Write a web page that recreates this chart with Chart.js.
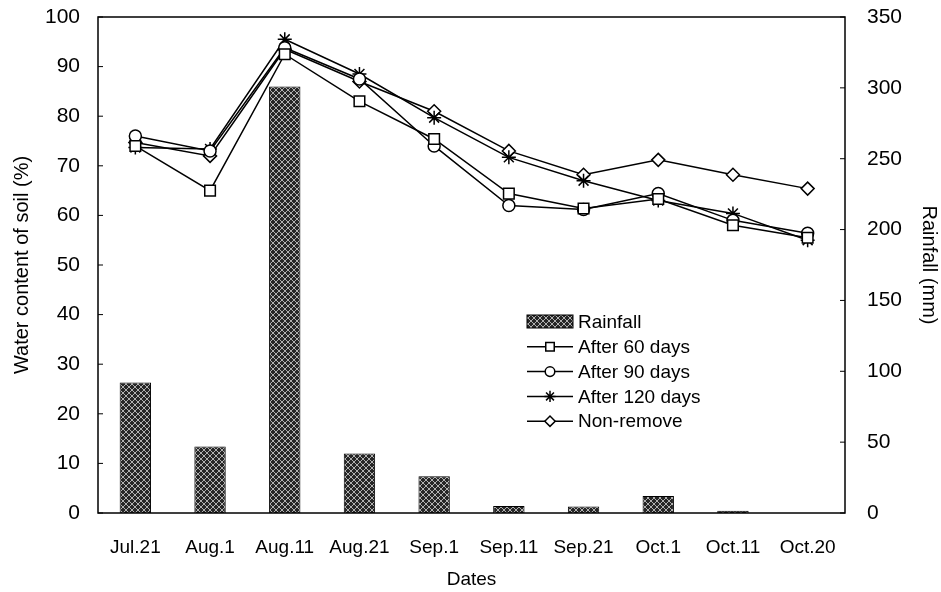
<!DOCTYPE html>
<html>
<head>
<meta charset="utf-8">
<script src="https://cdn.jsdelivr.net/npm/chart.js@4/dist/chart.umd.min.js"></script>
<style>
  html, body { margin: 0; padding: 0; background: #fff; }
  #wrap { width: 941px; height: 592px; }
</style>
</head>
<body>
<div id="wrap"><canvas id="myChart" width="941" height="592"></canvas></div>
<script>
'use strict';

// ******* DATA *******

let dates = ['Jul.21', 'Aug.1', 'Aug.11', 'Aug.21', 'Sep.1', 'Sep.11', 'Sep.21', 'Oct.1', 'Oct.11', 'Oct.20'];
let rainfall = [92, 47, 301, 42, 26, 5, 4.5, 12, 1.5, 0];
let after60 = [74, 65, 92.5, 83, 75.4, 64.4, 61.4, 63.3, 58, 55.5];
let after90 = [76, 73, 93.8, 87.5, 74, 62, 61.2, 64.4, 59, 56.4];
let after120 = [73.7, 73.4, 95.5, 88.5, 79.7, 71.7, 67, 63, 60.4, 55];
let nonRemove = [74.7, 72, 93.5, 87, 81, 73, 68.2, 71.2, 68.2, 65.4];

let leftTicks = [0, 10, 20, 30, 40, 50, 60, 70, 80, 90, 100];
let rightTicks = [0, 50, 100, 150, 200, 250, 300, 350];

const FONT = "'Liberation Sans', Arial, sans-serif";

// ******* HATCH PATTERN *******

function makeHatch() {
  let c = document.createElement('canvas');
  c.width = 6;
  c.height = 6;
  let g = c.getContext('2d');
  g.fillStyle = '#262626';
  g.fillRect(0, 0, 6, 6);
  g.strokeStyle = '#b0b0b0';
  g.lineWidth = 1;
  g.beginPath();
  g.moveTo(0, 0); g.lineTo(6, 6);
  g.moveTo(6, 0); g.lineTo(0, 6);
  g.stroke();
  return g.createPattern(c, 'repeat');
}

let hatch = makeHatch();

// ******* PLUGINS *******

// box frame + inward ticks
const framePlugin = {
  id: 'frame',
  afterDatasetsDraw(chart) {
    const { ctx, chartArea: a, scales } = chart;
    ctx.save();
    ctx.strokeStyle = '#000';
    ctx.lineWidth = 1.5;
    ctx.strokeRect(a.left, a.top, a.right - a.left, a.bottom - a.top);
    ctx.lineWidth = 1;
    ctx.beginPath();
    leftTicks.forEach(v => {
      let y = scales.y.getPixelForValue(v);
      ctx.moveTo(a.left, y); ctx.lineTo(a.left + 5, y);
    });
    rightTicks.forEach(v => {
      let y = scales.y2.getPixelForValue(v);
      ctx.moveTo(a.right, y); ctx.lineTo(a.right - 5, y);
    });
    ctx.stroke();
    ctx.restore();
  }
};

// legend inside the plot
const legendPlugin = {
  id: 'innerLegend',
  afterDraw(chart) {
    const { ctx, chartArea: a } = chart;
    let x0 = a.left + 429;
    let y0 = a.top + 305;
    let rowH = 24.8;
    ctx.save();
    ctx.font = '19px ' + FONT;
    ctx.textBaseline = 'middle';

    chart.data.datasets.forEach((ds, i) => {
      let y = y0 + i * rowH;
      if (ds.type === 'bar') {
        ctx.fillStyle = hatch;
        ctx.fillRect(x0, y - 7, 46, 13);
        ctx.strokeStyle = '#000';
        ctx.lineWidth = 1;
        ctx.strokeRect(x0, y - 7, 46, 13);
      } else {
        ctx.strokeStyle = '#000';
        ctx.lineWidth = 1.5;
        ctx.beginPath();
        ctx.moveTo(x0, y); ctx.lineTo(x0 + 46, y);
        ctx.stroke();
        ctx.fillStyle = '#fff';
        Chart.helpers.drawPoint(ctx, {
          pointStyle: ds.pointStyle,
          radius: ds.pointRadius * 0.8,
          rotation: 0,
          borderWidth: 1.5
        }, x0 + 23, y);
      }
      ctx.fillStyle = '#000';
      ctx.fillText(ds.label, x0 + 51, y + 1);
    });
    ctx.restore();
  }
};

// ******* CHART *******

function lineSet(label, data, style, r) {
  return {
    type: 'line',
    label: label,
    data: data,
    yAxisID: 'y',
    borderColor: '#000',
    borderWidth: 1.5,
    pointStyle: style,
    pointRadius: r,
    pointBorderColor: '#000',
    pointBackgroundColor: '#fff',
    pointBorderWidth: 1.5,
    tension: 0,
    order: 1
  };
}

function fitVertical(w) {
  return s => {
    s.width = w;
    s.paddingTop = 0;
    s.paddingBottom = 0;
  };
}

const ctx = document.getElementById('myChart').getContext('2d');

const myChart = new Chart(ctx, {
  type: 'bar',
  data: {
    labels: dates,
    datasets: [
      {
        type: 'bar',
        label: 'Rainfall',
        data: rainfall,
        yAxisID: 'y2',
        backgroundColor: hatch,
        borderColor: '#000',
        borderWidth: 1,
        barPercentage: 0.84,
        categoryPercentage: 0.5,
        order: 10
      },
      lineSet('After 60 days', after60, 'rect', 7.5),
      lineSet('After 90 days', after90, 'circle', 6),
      lineSet('After 120 days', after120, 'star', 7),
      lineSet('Non-remove', nonRemove, 'rectRot', 6.5)
    ]
  },
  plugins: [framePlugin, legendPlugin],
  options: {
    responsive: false,
    animation: false,
    layout: { padding: { left: 0, right: 0, top: 17, bottom: 0 } },
    plugins: {
      legend: { display: false },
      tooltip: { enabled: false }
    },
    scales: {
      x: {
        offset: true,
        afterFit: s => { s.height = 79; },
        grid: { display: false, drawTicks: false },
        border: { display: false },
        ticks: { color: '#000', font: { family: FONT, size: 19 }, padding: 23, maxRotation: 0, autoSkip: false },
        title: { display: true, text: 'Dates', color: '#000', font: { family: FONT, size: 19 }, padding: { top: 0, bottom: 1 } }
      },
      y: {
        position: 'left',
        min: 0,
        max: 100,
        afterFit: fitVertical(98),
        grid: { display: false, drawTicks: false },
        border: { display: false },
        ticks: { stepSize: 10, color: '#000', font: { family: FONT, size: 21 }, padding: 18 },
        title: { display: true, text: 'Water content of soil (%)', color: '#000', font: { family: FONT, size: 20 }, padding: { top: 10, bottom: 0 } }
      },
      y2: {
        position: 'right',
        min: 0,
        max: 350,
        afterFit: fitVertical(96),
        grid: { display: false, drawTicks: false },
        border: { display: false },
        ticks: { stepSize: 50, color: '#000', font: { family: FONT, size: 21 }, padding: 22 },
        title: { display: true, text: 'Rainfall (mm)', color: '#000', font: { family: FONT, size: 20 }, padding: { top: 0, bottom: 6 } }
      }
    }
  }
});
</script>
</body>
</html>
